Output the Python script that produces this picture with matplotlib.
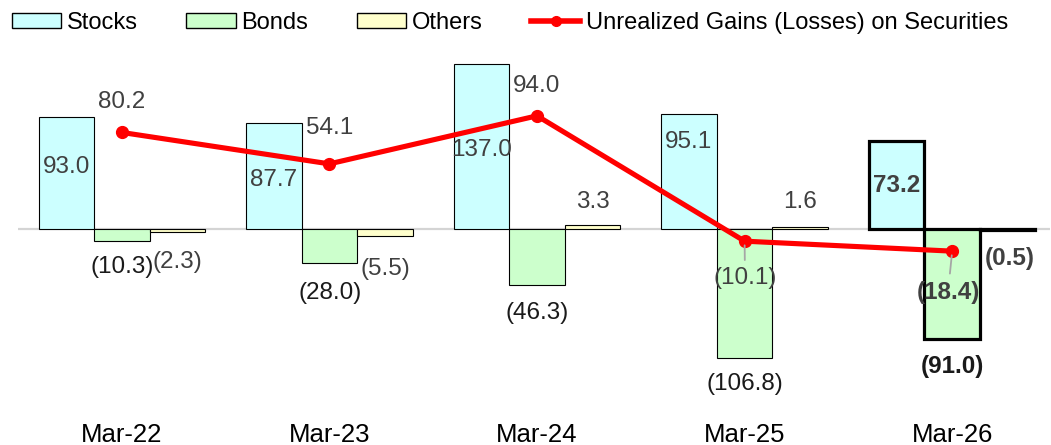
import matplotlib
matplotlib.use("Agg")
import matplotlib.pyplot as plt
from matplotlib.patches import Patch
from matplotlib.lines import Line2D
import numpy as np

plt.rcParams['font.family'] = ['Liberation Sans', 'DejaVu Sans']

categories = ["Mar-22", "Mar-23", "Mar-24", "Mar-25", "Mar-26"]
stocks = [93.0, 87.7, 137.0, 95.1, 73.2]
bonds = [-10.3, -28.0, -46.3, -106.8, -91.0]
others = [-2.3, -5.5, 3.3, 1.6, -0.5]
unrealized = [80.2, 54.1, 94.0, -10.1, -18.4]

def fmt(v):
    return f"({abs(v):.1f})" if v < 0 else f"{v:.1f}"

# label positions (pixel centres) -> converted to data coords below
stock_lbl_px = [(67, 167), (274, 180), (482, 150), (689, 142), (897, 185)]
bond_lbl_px = [(122, 267), (330, 293), (537, 313), (745, 384), (952, 366)]
other_lbl_px = [(177, 262), (385, 269), (593, 202), (800, 202), (1010, 258)]
line_lbl_px = [(122, 102), (330, 128), (537, 86), (745, 278), (948, 292)]

W, H = 1051, 445
fig = plt.figure(figsize=(W / 100, H / 100), dpi=100)
ax_l, ax_r, ax_t, ax_b = 18, 1050, 50, 410
ax = fig.add_axes([ax_l / W, 1 - ax_b / H, (ax_r - ax_l) / W, (ax_b - ax_t) / H])

x = np.arange(len(categories))
bw = 0.267
zero_px = 229
scale = 1.204
ax.set_ylim(-(ax_b - zero_px) / scale, (zero_px - ax_t) / scale)
ax.set_xlim(-0.5, -0.5 + (ax_r - ax_l) / 207.6)

def px2data(px, py):
    xd = -0.5 + (px - ax_l) / 207.6
    yd = (zero_px - py) / scale
    return xd, yd

ax.axhline(0, color='#d4d4d4', lw=1.6, zorder=1)

series = [(stocks, '#CCFFFF', -bw), (bonds, '#CCFFCC', 0), (others, '#FFFFCC', bw)]
for vals, col, off in series:
    lws = [0.8] * (len(vals) - 1) + [2.3]
    ax.bar(x + off, vals, width=bw, color=col, edgecolor='black', linewidth=lws, zorder=2)

ax.plot(x, unrealized, color='#FF0000', lw=3.7, marker='o', markersize=8.5, zorder=4)

last = len(categories) - 1
for i in range(len(categories)):
    bold = 'bold' if i == last else 'normal'
    for vals, pos, col in [(stocks, stock_lbl_px, '#404040'),
                           (bonds, bond_lbl_px, '#1a1a1a'),
                           (others, other_lbl_px, '#404040')]:
        xd, yd = px2data(*pos[i])
        ax.text(xd, yd, fmt(vals[i]), ha='center', va='center', fontsize=17.5,
                color=col, fontweight=bold, zorder=5)
    xd, yd = px2data(*line_lbl_px[i])
    if unrealized[i] < 0:
        ax.annotate(fmt(unrealized[i]), xy=(x[i], unrealized[i]), xytext=(xd, yd),
                    ha='center', va='center', fontsize=17.5, color='#404040',
                    fontweight=bold, zorder=5,
                    arrowprops=dict(arrowstyle='-', color='#a6a6a6', lw=1.3,
                                    shrinkA=3, shrinkB=3))
    else:
        ax.text(xd, yd, fmt(unrealized[i]), ha='center', va='center', fontsize=17.5,
                color='#404040', fontweight=bold, zorder=5)

ax.set_xticks(x)
ax.set_xticklabels(categories, fontsize=18.5, color='black')
ax.tick_params(axis='x', length=0, pad=9)
ax.set_yticks([])
for s in ax.spines.values():
    s.set_visible(False)

handles = [Patch(facecolor='#CCFFFF', edgecolor='black', lw=1),
           Patch(facecolor='#CCFFCC', edgecolor='black', lw=1),
           Patch(facecolor='#FFFFCC', edgecolor='black', lw=1),
           Line2D([0], [0], color='#FF0000', lw=4, marker='o', markersize=7)]
labels = ["Stocks", "Bonds", "Others", "Unrealized Gains (Losses) on Securities"]
fig.legend(handles, labels, loc='center left', bbox_to_anchor=(12 / W, 1 - 23 / H),
           ncol=4, frameon=False, fontsize=17, handlelength=2.08, handleheight=0.63,
           handletextpad=0.25, columnspacing=2.05, borderaxespad=0, borderpad=0)

fig.savefig("out.png", dpi=100)
